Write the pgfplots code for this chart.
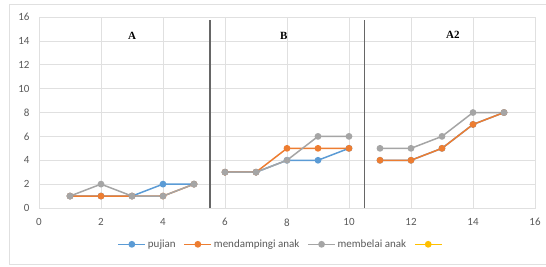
\documentclass[border=0pt]{standalone}
\usepackage{pgfplots}
\pgfplotsset{compat=1.18}
\usepackage{fontspec}
\setmainfont{Liberation Serif}
\newfontfamily\carlito{Carlito}
\definecolor{xblue}{HTML}{5B9BD5}
\definecolor{xorange}{HTML}{ED7D31}
\definecolor{xgray}{HTML}{A5A5A5}
\definecolor{xyellow}{HTML}{FFC000}
\definecolor{xtext}{HTML}{595959}
\begin{document}
\begin{tikzpicture}
\path[use as bounding box] (-39pt,-58pt) rectangle (507pt,208pt);
\draw[black!12, line width=0.8pt] (-30pt,-56pt) rectangle (520pt,204pt);
\begin{axis}[
  scale only axis, width=496pt, height=191pt,
  xmin=0, xmax=16, ymin=0, ymax=16,
  xtick={0,2,...,16}, ytick={0,2,...,16},
  grid=major, major grid style={black!12, line width=0.6pt},
  axis line style={black!12},
  tick style={draw=none},
  /pgf/number format/assume math mode=true,
  tick label style={font=\carlito\fontsize{11}{12}\selectfont, text=xtext},
  xticklabel style={yshift=-7pt},
  yticklabel style={xshift=-6pt},
  legend style={at={(0.49,-0.19)}, anchor=center, draw=none, legend columns=-1,
    font=\carlito\fontsize{11}{12}\selectfont, text=xtext,
    /tikz/every even column/.append style={column sep=6pt}},
  legend image code/.code={\draw[mark repeat=2,mark phase=2] plot coordinates {(0cm,0cm)(0.47cm,0cm)(0.94cm,0cm)};},
  every axis plot/.append style={line width=1.5pt, mark=*, mark size=2.6pt},
]
% pujian
\addplot[xblue, mark options={fill=xblue}] coordinates {(1,1)(2,1)(3,1)(4,2)(5,2)};
\addlegendentry{pujian}
\addplot[xblue, mark options={fill=xblue}, forget plot] coordinates {(6,3)(7,3)(8,4)(9,4)(10,5)};
\addplot[xblue, mark options={fill=xblue}, forget plot] coordinates {(11,4)(12,4)(13,5)(14,7)(15,8)};
% mendampingi anak
\addplot[xorange, mark options={fill=xorange}] coordinates {(1,1)(2,1)(3,1)(4,1)(5,2)};
\addlegendentry{mendampingi anak}
\addplot[xorange, mark options={fill=xorange}, forget plot] coordinates {(6,3)(7,3)(8,5)(9,5)(10,5)};
\addplot[xorange, mark options={fill=xorange}, forget plot] coordinates {(11,4)(12,4)(13,5)(14,7)(15,8)};
% membelai anak
\addplot[xgray, mark options={fill=xgray}] coordinates {(1,1)(2,2)(3,1)(4,1)(5,2)};
\addlegendentry{membelai anak}
\addplot[xgray, mark options={fill=xgray}, forget plot] coordinates {(6,3)(7,3)(8,4)(9,6)(10,6)};
\addplot[xgray, mark options={fill=xgray}, forget plot] coordinates {(11,5)(12,5)(13,6)(14,8)(15,8)};
\addlegendimage{xyellow, line width=1.5pt, mark=*, mark size=2.6pt, mark options={fill=xyellow}}
\addlegendentry{}
% separators
\draw[black!60, line width=1.4pt] (axis cs:5.52,0) -- (axis cs:5.52,15.75);
\draw[black!60, line width=1.4pt] (axis cs:10.5,0) -- (axis cs:10.5,15.75);
\node[font=\bfseries\fontsize{11}{12}\selectfont] at (axis cs:3,14.4) {A};
\node[font=\bfseries\fontsize{11}{12}\selectfont] at (axis cs:7.9,14.4) {B};
\node[font=\bfseries\fontsize{11}{12}\selectfont] at (axis cs:13.35,14.5) {A2};
\end{axis}
\end{tikzpicture}
\end{document}
